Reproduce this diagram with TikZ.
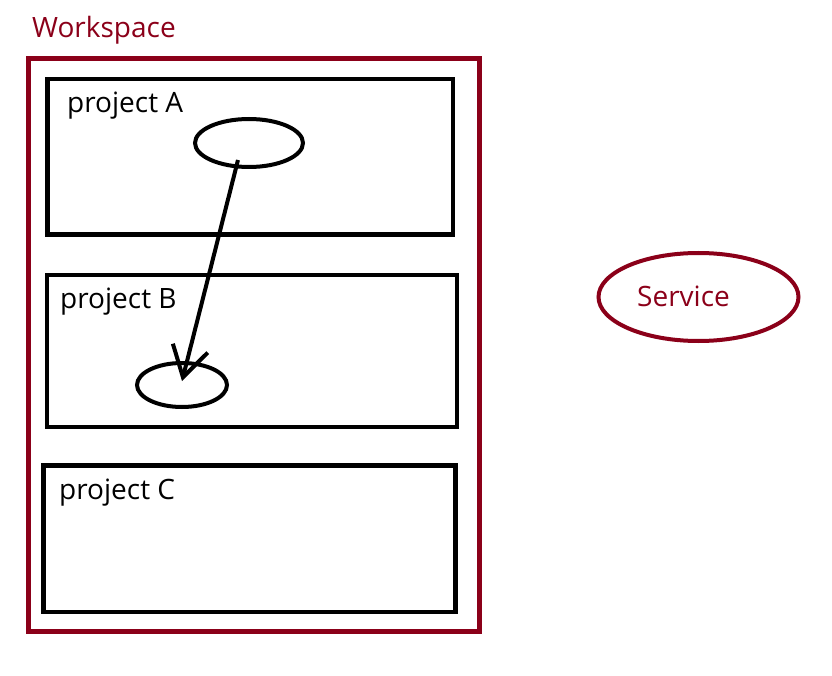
\documentclass[tikz,border=0pt]{standalone}
\usepackage{fontspec}
\setmainfont{Open Sans}
\usetikzlibrary{arrows.meta,shapes.geometric}
\definecolor{wsred}{HTML}{8B0019}

\begin{document}
\begin{tikzpicture}[x=1pt,y=-1pt,
	box/.style={draw, line width=4.5pt, minimum width=#1, anchor=north west, inner sep=0pt, outer sep=0pt},
	lbl/.style={anchor=base west, inner sep=0pt, font=\fontsize{28}{32}\selectfont},
	oval/.style={draw, ellipse, line width=4pt, inner sep=0pt}]
	\useasboundingbox (0,0) rectangle (832,676);
	% workspace
	\node[lbl, wsred] (wslbl) at (32,38) {Workspace};
	\draw[wsred, line width=5pt] (28.5,58.5) rectangle (479.5,631.5);
	% projects
	\node[box=405.5pt, minimum height=155.5pt] (pA) at (47.5,79) {};
	\node[box=410pt, minimum height=152pt] (pB) at (47,275) {};
	\node[box=412pt, minimum height=146.5pt] (pC) at (43.5,465.5) {};
	\node[lbl] (lA) at (67,113) {project A};
	\node[lbl] (lB) at (60,308) {project B};
	\node[lbl] (lC) at (59,499) {project C};
	% ellipses
	\node[oval, minimum width=108pt, minimum height=48pt] (eA) at (249,143) {};
	\node[oval, minimum width=90pt, minimum height=44pt] (eB) at (182,385) {};
	\coordinate (from) at ([shift={(-11,17)}]eA.center);
	\coordinate (to) at ([yshift=4pt]eB.center);
	\draw[line width=4pt, -{Straight Barb[length=30pt, width=36pt, line width=4pt]}] (from) -- (to);
	% service
	\node[draw=wsred, ellipse, line width=4pt, minimum width=200pt, minimum height=88pt] (srv) at (698.5,297) {};
	\node[lbl, wsred] (srvlbl) at (637,306) {Service};
\end{tikzpicture}
\end{document}
